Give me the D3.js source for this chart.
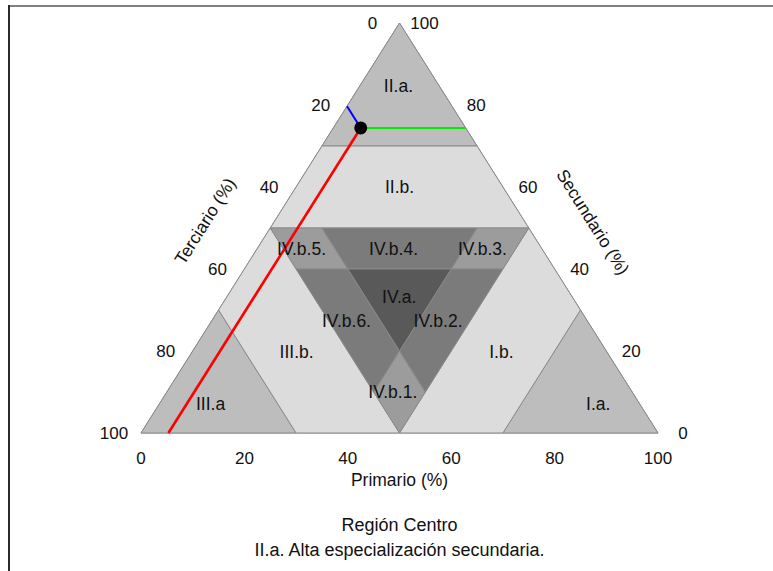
<!DOCTYPE html>
<html>
<head>
<meta charset="utf-8">
<script src="https://cdn.jsdelivr.net/npm/d3@7"></script>
<style>
  html, body { margin: 0; padding: 0; background: #ffffff; }
  svg { display: block; }
  text { font-family: "Liberation Sans", Arial, sans-serif; fill: #111; }
</style>
</head>
<body>
<svg id="chart" width="773" height="571"></svg>
<script>
// ---- data (ternary coordinates: [Primario, Secundario, Terciario]) ----
const ticks = [0, 20, 40, 60, 80, 100];

const regionNames = ["base", "II.a.", "III.a", "I.a.", "II.b.", "III.b.", "I.b.",
  "IV.b.5.", "IV.b.3.", "IV.b.1.", "IV.b.4.", "IV.b.6.", "IV.b.2.", "IV.a."];
const regionKinds = ["base", "extreme", "extreme", "extreme", "mid", "mid", "mid",
  "corner", "corner", "corner", "strip", "strip", "strip", "core"];
const regionVertices = [
  [[0,0,100],[100,0,0],[0,100,0]],
  [[0,70,30],[30,70,0],[0,100,0]],
  [[0,0,100],[30,0,70],[0,30,70]],
  [[100,0,0],[70,30,0],[70,0,30]],
  [[0,50,50],[50,50,0],[30,70,0],[0,70,30]],
  [[0,50,50],[50,0,50],[30,0,70],[0,30,70]],
  [[50,50,0],[50,0,50],[70,0,30],[70,30,0]],
  [[0,50,50],[10,50,40],[20,40,40],[10,40,50]],
  [[50,50,0],[40,50,10],[40,40,20],[50,40,10]],
  [[50,0,50],[50,10,40],[40,20,40],[40,10,50]],
  [[10,50,40],[40,50,10],[40,40,20],[20,40,40]],
  [[10,40,50],[20,40,40],[40,20,40],[40,10,50]],
  [[50,40,10],[40,40,20],[40,20,40],[50,10,40]],
  [[20,40,40],[40,40,20],[40,20,40]]
];
const labelText = ["II.a.", "II.b.", "IV.b.5.", "IV.b.4.", "IV.b.3.", "IV.a.",
  "IV.b.6.", "IV.b.2.", "III.b.", "I.b.", "IV.b.1.", "III.a", "I.a."];
const labelPos = [
  [7.5,84.6,7.9], [20,60,20], [8.6,44.9,46.5], [26.4,44.9,28.7], [43.6,44.9,11.5],
  [33.3,33.3,33.4], [26.1,27.3,46.6], [43.8,27.3,28.9], [20.2,19.8,60], [59.8,19.8,20.4],
  [43.7,10,46.3], [9.9,7.1,83], [84.9,7.1,8]
];

// Región Centro point
const pointName = "Región Centro";
const pointValue = [5.3, 74.4, 20.3];

const titleLines = ["Región Centro", "II.a. Alta especialización secundaria."];
const axisTitles = ["Primario (%)", "Secundario (%)", "Terciario (%)"];

// ---- drawing ----
const svg = d3.select("#chart");
const x = d3.scaleLinear().domain([0, 100]).range([141, 658]);
const y = d3.scaleLinear().domain([0, 100]).range([433, 23]);
const proj = ([p, s, t]) => [x(p + s / 2), y(s)];

const fills = { base: "#dcdcdc", extreme: "#bdbdbd", mid: "#dcdcdc",
  corner: "#9c9c9c", strip: "#7b7b7b", core: "#595959" };

// frame
svg.append("line").attr("x1", 9).attr("x2", 773).attr("y1", 6).attr("y2", 6)
  .attr("stroke", "#808080").attr("stroke-width", 2);
svg.append("line").attr("x1", 9).attr("x2", 9).attr("y1", 5).attr("y2", 571)
  .attr("stroke", "#2a2a2a").attr("stroke-width", 2);

const line = d3.line();
svg.append("g").selectAll("path").data(regionVertices).join("path")
  .attr("d", v => line(v.map(proj)) + "Z")
  .attr("fill", (v, i) => fills[regionKinds[i]])
  .attr("stroke", "#8a8a8a").attr("stroke-width", 1)
  .attr("stroke-linejoin", "round");

// guide lines from the point
const [pp, ps, pt] = pointValue;
const guides = [
  { to: [pp, 0, 100 - pp], color: "#ff0000", w: 2.6 },
  { to: [100 - ps, ps, 0], color: "#00ee00", w: 2 },
  { to: [0, 100 - pt, pt], color: "#0000ff", w: 2 }
];
svg.append("g").selectAll("line").data(guides).join("line")
  .attr("x1", proj(pointValue)[0]).attr("y1", proj(pointValue)[1])
  .attr("x2", d => proj(d.to)[0]).attr("y2", d => proj(d.to)[1])
  .attr("stroke", d => d.color).attr("stroke-width", d => d.w);

svg.append("circle")
  .attr("cx", proj(pointValue)[0]).attr("cy", proj(pointValue)[1])
  .attr("r", 6.5).attr("fill", "#000");

// region labels
svg.append("g").selectAll("text").data(labelText).join("text")
  .attr("x", (d, i) => proj(labelPos[i])[0])
  .attr("y", (d, i) => proj(labelPos[i])[1])
  .attr("dy", "0.35em").attr("text-anchor", "middle")
  .style("font-size", "17.5px").text(d => d);

// tick labels
const fs = "17px";
// Primario (bottom)
svg.append("g").selectAll("text").data(ticks).join("text")
  .attr("x", d => proj([d, 0, 100 - d])[0]).attr("y", y(0) + 25)
  .attr("dy", "0.35em").attr("text-anchor", "middle").style("font-size", fs)
  .text(d => d);
// Secundario (right edge)
svg.append("g").selectAll("text").data(ticks).join("text")
  .attr("x", d => proj([100 - d, d, 0])[0] + 25).attr("y", d => y(d))
  .attr("dy", "0.35em").attr("text-anchor", "middle").style("font-size", fs)
  .text(d => d);
// Terciario (left edge)
svg.append("g").selectAll("text").data(ticks).join("text")
  .attr("x", d => proj([0, 100 - d, d])[0] - 27).attr("y", d => y(100 - d))
  .attr("dy", "0.35em").attr("text-anchor", "middle").style("font-size", fs)
  .text(d => d);

// axis titles
const afs = "17.5px";
const ang = Math.atan2(y(0) - y(100), x(50) - x(0)) * 180 / Math.PI;
svg.append("text").attr("x", x(50)).attr("y", y(0) + 47).attr("dy", "0.35em")
  .attr("text-anchor", "middle").style("font-size", afs).text(axisTitles[0]);
svg.append("text").attr("transform", `translate(593,222) rotate(${ang})`)
  .attr("dy", "0.35em").attr("text-anchor", "middle").style("font-size", afs)
  .text(axisTitles[1]);
svg.append("text").attr("transform", `translate(205,221) rotate(${-ang})`)
  .attr("dy", "0.35em").attr("text-anchor", "middle").style("font-size", afs)
  .text(axisTitles[2]);

// title lines
svg.append("g").selectAll("text").data(titleLines).join("text")
  .attr("x", x(50)).attr("y", (d, i) => 525 + i * 25).attr("dy", "0.35em")
  .attr("text-anchor", "middle").style("font-size", "18px").text(d => d);
</script>
</body>
</html>
